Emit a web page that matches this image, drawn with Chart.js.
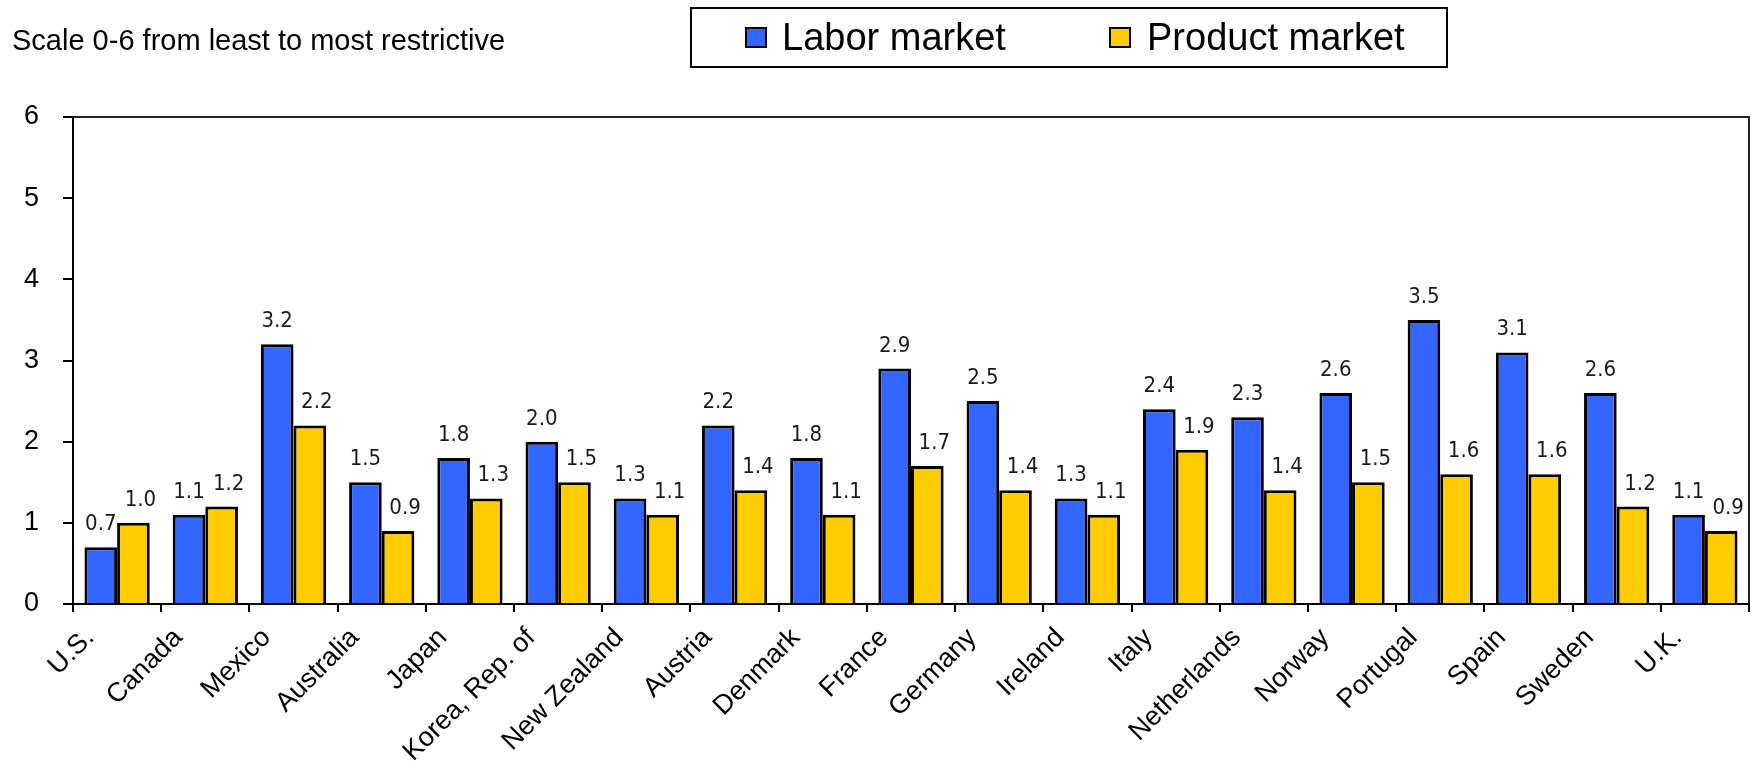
<!DOCTYPE html>
<html>
<head>
<meta charset="utf-8">
<title>Labor and product market regulation</title>
<script src="https://cdn.jsdelivr.net/npm/chart.js@4.4.1/dist/chart.umd.min.js"></script>
<style>
  html, body { margin: 0; padding: 0; background: #fff; }
  #wrap { position: relative; width: 1754px; height: 766px; }
</style>
</head>
<body>
<div id="wrap"><canvas id="regChart" width="1754" height="766"></canvas></div>
<script>
// values
const countries = ["U.S.", "Canada", "Mexico", "Australia", "Japan", "Korea, Rep. of",
  "New Zealand", "Austria", "Denmark", "France", "Germany", "Ireland", "Italy",
  "Netherlands", "Norway", "Portugal", "Spain", "Sweden", "U.K."];
const laborMarket = [0.7, 1.1, 3.2, 1.5, 1.8, 2.0, 1.3, 2.2, 1.8, 2.9, 2.5, 1.3, 2.4, 2.3, 2.6, 3.5, 3.1, 2.6, 1.1];
const productMarket = [1.0, 1.2, 2.2, 0.9, 1.3, 1.5, 1.1, 1.4, 1.1, 1.7, 1.4, 1.1, 1.9, 1.4, 1.5, 1.6, 1.6, 1.2, 0.9];
const seriesNames = ["Labor market", "Product market"];
const yTicks = [0, 1, 2, 3, 4, 5, 6];
const subtitle = "Scale 0-6 from least to most restrictive";

const BLUE = "#3366FF";
const YELLOW = "#FFCC00";
const ARIAL = "'Liberation Sans', Arial, sans-serif";

document.addEventListener("DOMContentLoaded", function () {
  const ctx = document.getElementById("regChart").getContext("2d");

  // value labels above bars
  const valueLabels = {
    id: "valueLabels",
    afterDatasetsDraw(chart) {
      const c = chart.ctx;
      c.save();
      c.font = "22px 'DejaVu Sans Condensed', 'DejaVu Sans', sans-serif";
      c.fillStyle = "#1a1a1a";
      c.textAlign = "center";
      c.textBaseline = "alphabetic";
      chart.data.datasets.forEach((ds, di) => {
        const meta = chart.getDatasetMeta(di);
        const dx = di === 1 ? 7 : 0;
        meta.data.forEach((bar, i) => {
          c.fillText(ds.data[i].toFixed(1), bar.x + dx, bar.y - 17);
        });
      });
      c.restore();
    },
  };

  // plot frame, subtitle and boxed legend
  const decorations = {
    id: "decorations",
    afterDraw(chart) {
      const c = chart.ctx;
      const a = chart.chartArea;
      c.save();
      c.strokeStyle = "#222";
      c.lineWidth = 2;
      c.beginPath();
      c.moveTo(a.left, a.top);
      c.lineTo(a.right, a.top);
      c.lineTo(a.right, a.bottom);
      c.stroke();

      c.fillStyle = "#000";
      c.textBaseline = "alphabetic";
      c.textAlign = "left";
      c.font = "29px " + ARIAL;
      c.fillText(subtitle, 12, 50);

      // legend box
      c.lineWidth = 2;
      c.strokeStyle = "#000";
      c.strokeRect(691, 8, 756, 59);
      const keys = [
        { x: 746, tx: 782, color: BLUE },
        { x: 1110, tx: 1147, color: YELLOW },
      ];
      c.font = "38px " + ARIAL;
      keys.forEach((k, i) => {
        c.fillStyle = k.color;
        c.fillRect(k.x, 28, 20, 19);
        c.lineWidth = 2;
        c.strokeRect(k.x, 28, 20, 19);
        c.fillStyle = "#000";
        c.fillText(seriesNames[i], k.tx, 50);
      });
      c.restore();
    },
  };

  new Chart(ctx, {
    type: "bar",
    data: {
      labels: countries,
      datasets: [
        {
          label: seriesNames[0],
          data: laborMarket,
          backgroundColor: BLUE,
          borderColor: "#000",
          borderWidth: 3,
          categoryPercentage: 0.74,
          barPercentage: 1.0,
        },
        {
          label: seriesNames[1],
          data: productMarket,
          backgroundColor: YELLOW,
          borderColor: "#000",
          borderWidth: 3,
          categoryPercentage: 0.74,
          barPercentage: 1.0,
        },
      ],
    },
    options: {
      responsive: false,
      animation: false,
      devicePixelRatio: 1,
      layout: { padding: { top: 117, right: 5, left: 0, bottom: 0 } },
      plugins: {
        legend: { display: false },
        tooltip: { enabled: false },
      },
      scales: {
        x: {
          offset: true,
          grid: {
            offset: true,
            drawOnChartArea: false,
            tickLength: 8,
            color: "#000",
            lineWidth: 2,
          },
          border: { color: "#000", width: 2 },
          ticks: {
            autoSkip: false,
            maxRotation: 45,
            minRotation: 45,
            color: "#000",
            padding: 10,
            labelOffset: -27,
            font: { family: ARIAL, size: 27 },
          },
          afterFit(scale) { scale.height = 162; },
        },
        y: {
          min: 0,
          max: 6,
          afterBuildTicks(scale) { scale.ticks = yTicks.map((v) => ({ value: v })); },
          grid: {
            drawOnChartArea: false,
            tickLength: 10,
            color: "#000",
            lineWidth: 2,
          },
          border: { color: "#000", width: 2 },
          ticks: {
            color: "#000",
            padding: 24,
            font: { family: ARIAL, size: 27 },
          },
          afterFit(scale) { scale.width = 73; },
        },
      },
    },
    plugins: [valueLabels, decorations],
  });
});
</script>
</body>
</html>
